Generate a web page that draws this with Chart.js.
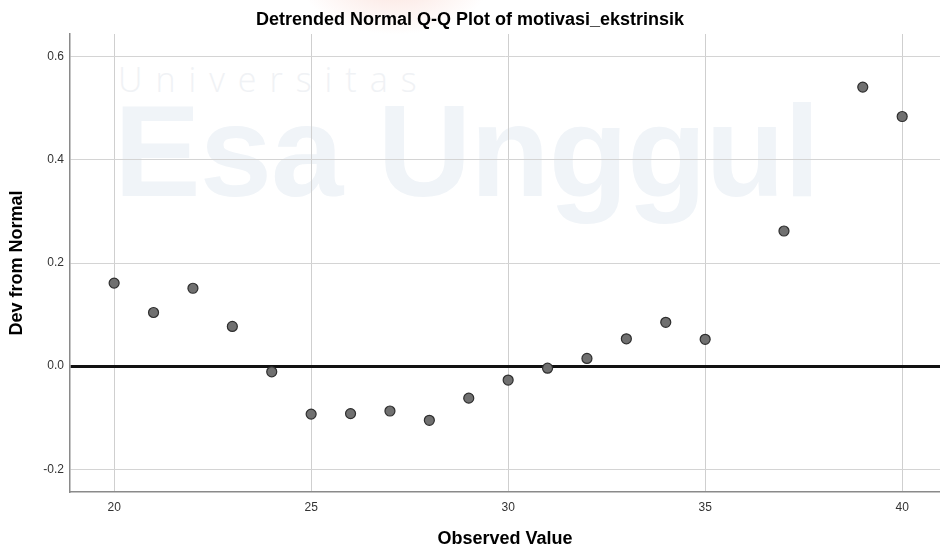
<!DOCTYPE html>
<html>
<head>
<meta charset="utf-8">
<script src="https://cdn.jsdelivr.net/npm/chart.js@4.4.1/dist/chart.umd.min.js"></script>
<style>
  html, body { margin: 0; padding: 0; background: #fff; }
  #wrap { position: relative; width: 940px; height: 555px; overflow: hidden; background: #fff; }
  .wm { position: absolute; white-space: nowrap; pointer-events: none; line-height: 1; }
  #wm1 { left: 118px; top: 62px; font-family: "Open Sans", sans-serif; font-size: 34px; font-weight: 300; letter-spacing: 13px; color: #f0f2f5; }
  #wm2 { left: 114px; top: 86px; font-family: "Liberation Sans", Arial, sans-serif; font-size: 130px; font-weight: bold; letter-spacing: -1px; color: #f0f4f8; }
  #blob { position: absolute; left: 300px; top: -70px; width: 190px; height: 105px; border-radius: 50%;
          background: radial-gradient(ellipse at center, rgba(248, 205, 195, 0.55), rgba(255, 255, 255, 0) 70%); }
  canvas { position: absolute; left: 0; top: 0; }
</style>
</head>
<body>
<div id="wrap">
  <div id="blob"></div>
  <div class="wm" id="wm1">Universitas</div>
  <div class="wm" id="wm2">Esa Unggul</div>
  <canvas id="chart" width="940" height="555"></canvas>
</div>
<script>
// observed values and their deviation from normal
const observed = [20, 21, 22, 23, 24, 25, 26, 27, 28, 29, 30, 31, 32, 33, 34, 35, 37, 39, 40];
const devFromNormal = [0.161, 0.104, 0.151, 0.077, -0.011, -0.093, -0.092, -0.087, -0.105, -0.062,
  -0.027, -0.004, 0.015, 0.053, 0.085, 0.052, 0.262, 0.541, 0.484];

const xTicks = [20, 25, 30, 35, 40];
const yTicks = [-0.2, 0.0, 0.2, 0.4, 0.6];

const font = "'Liberation Sans', Arial, sans-serif";

const points = observed.map((x, i) => ({ x: x, y: devFromNormal[i] }));

new Chart(document.getElementById("chart").getContext("2d"), {
  type: "scatter",
  data: {
    datasets: [
      {
        data: points,
        backgroundColor: "#707070",
        borderColor: "#2e2e2e",
        borderWidth: 1.2,
        pointRadius: 5,
        pointHoverRadius: 5,
      },
    ],
  },
  options: {
    responsive: false,
    animation: false,
    layout: { padding: 0, autoPadding: false },
    plugins: {
      legend: { display: false },
      tooltip: { enabled: false },
      title: {
        display: true,
        text: "Detrended Normal Q-Q Plot of motivasi_ekstrinsik",
        color: "#000",
        font: { family: font, size: 18, weight: "bold" },
        padding: { top: 9, bottom: 3.4 },
      },
    },
    scales: {
      x: {
        type: "linear",
        min: 18.88,
        max: 40.96,
        afterBuildTicks: (scale) => {
          scale.ticks = xTicks.map((v) => ({ value: v }));
        },
        afterFit: (scale) => {
          scale.height = 63;
          scale.paddingLeft = 0;
          scale.paddingRight = 0;
        },
        ticks: {
          color: "#333",
          font: { family: font, size: 12 },
          padding: 8,
          maxRotation: 0,
        },
        grid: { color: "#cfcfcf", lineWidth: 1, drawTicks: false },
        border: { display: true, color: "#8a8a8a", width: 1.5 },
        title: {
          display: true,
          text: "Observed Value",
          color: "#000",
          font: { family: font, size: 18, weight: "bold" },
          padding: { top: 0, bottom: 5 },
        },
      },
      y: {
        type: "linear",
        min: -0.244,
        max: 0.644,
        afterBuildTicks: (scale) => {
          scale.ticks = yTicks.map((v) => ({ value: v }));
        },
        afterFit: (scale) => {
          scale.width = 70;
          scale.paddingTop = 0;
          scale.paddingBottom = 0;
        },
        ticks: {
          color: "#333",
          font: { family: font, size: 12 },
          padding: 6,
          callback: (v) => Number(v).toFixed(1),
        },
        grid: {
          drawTicks: false,
          color: (ctx) => (ctx.tick && ctx.tick.value === 0 ? "#111" : "#d4d4d4"),
          lineWidth: (ctx) => (ctx.tick && ctx.tick.value === 0 ? 3 : 1),
        },
        border: { display: true, color: "#8a8a8a", width: 1.5 },
        title: {
          display: true,
          text: "Dev from Normal",
          color: "#000",
          font: { family: font, size: 18, weight: "bold" },
          padding: { top: 6, bottom: 0 },
        },
      },
    },
  },
});
</script>
</body>
</html>
